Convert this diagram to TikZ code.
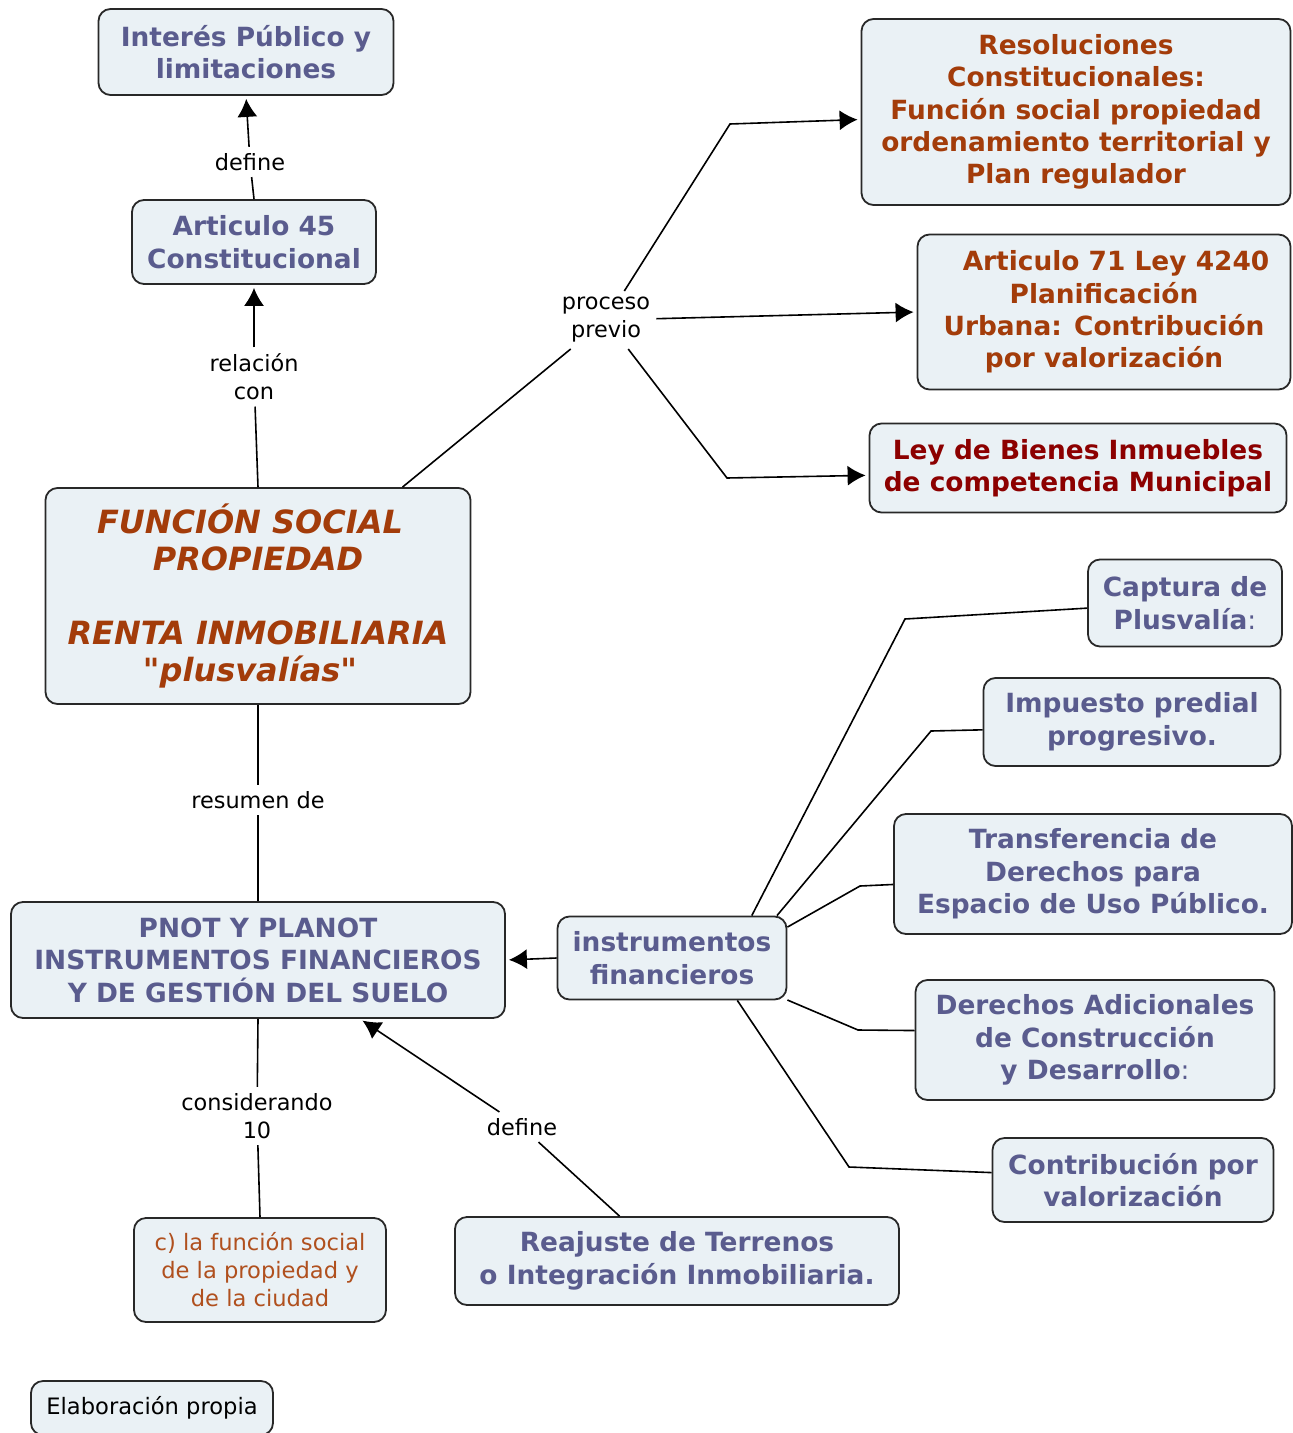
\documentclass[tikz,border=0pt]{standalone}
\usepackage{fontspec}
\setmainfont{DejaVu Sans}[Ligatures=TeXOff]
\usetikzlibrary{arrows.meta}

\definecolor{boxfill}{RGB}{234,241,245}
\definecolor{boxline}{RGB}{40,40,40}
\definecolor{slateblue}{RGB}{90,92,142}
\definecolor{rust}{RGB}{163,60,10}
\definecolor{darkred}{RGB}{140,0,0}
\definecolor{ochre}{RGB}{176,80,30}

\begin{document}
\begin{tikzpicture}[x=0.5pt,y=-0.5pt,
    concept/.style={rectangle,rounded corners=6pt,draw=boxline,line width=0.9pt,fill=boxfill,
        align=center,inner sep=0pt,font=\fontsize{13.2}{16.2}\selectfont\bfseries},
    linkword/.style={align=center,inner sep=3pt,font=\fontsize{11.2}{14}\selectfont},
    link/.style={line width=0.8pt},
    arrow/.style={link,-{Latex[length=9pt,width=10pt]},shorten >=1.5pt}]
    \fill[white] (0,0) rectangle (1292,1433);
    \useasboundingbox (0,0) rectangle (1292,1433);
    % nodes
    \node[concept,text=slateblue,minimum width=147.5pt,minimum height=43pt] (interes) at (246,52) {Interés Público y\\limitaciones};
    \node[concept,text=slateblue,minimum width=122pt,minimum height=42pt] (art45) at (254,242) {Articulo 45\\Constitucional};
    \node[concept,text=rust,minimum width=212.5pt,minimum height=108pt,font=\fontsize{16}{18.5}\selectfont\bfseries\itshape] (funcion) at (258,596) {FUNCIÓN SOCIAL\hspace*{8pt}\\PROPIEDAD\hspace*{8pt}\\[18.5pt]RENTA INMOBILIARIA\hspace*{8pt}\\"plusvalías"\hspace*{8pt}};
    \node[concept,text=rust,minimum width=214.5pt,minimum height=93pt] (resol) at (1076,112) {Resoluciones\\Constitucionales:\\Función social propiedad\\ordenamiento territorial y\\Plan regulador};
    \node[concept,text=rust,minimum width=186.5pt,minimum height=77.5pt] (art71) at (1104,312) {\hspace*{12pt}Articulo 71 Ley 4240\\Planificación\\Urbana: Contribución\\por valorización};
    \node[concept,text=darkred,minimum width=208.5pt,minimum height=44.5pt] (ley) at (1078,468) {Ley de Bienes Inmuebles\\de competencia Municipal};
    \node[concept,text=slateblue,minimum width=247pt,minimum height=58pt] (pnot) at (258,960) {PNOT Y PLANOT\\INSTRUMENTOS FINANCIEROS\\Y DE GESTIÓN DEL SUELO};
    \node[concept,text=slateblue,minimum width=114.5pt,minimum height=41.5pt] (instr) at (672,958) {instrumentos\\financieros};
    \node[concept,text=slateblue,minimum width=97pt,minimum height=43.5pt] (captura) at (1185,603) {Captura de\\Plusvalía{\mdseries :}};
    \node[concept,text=slateblue,minimum width=148.5pt,minimum height=44pt] (impuesto) at (1132,722) {Impuesto predial\\progresivo.};
    \node[concept,text=slateblue,minimum width=199pt,minimum height=60pt] (transf) at (1093,874) {Transferencia de\\Derechos para\\Espacio de Uso Público.};
    \node[concept,text=slateblue,minimum width=179.5pt,minimum height=60pt] (derechos) at (1095,1040) {Derechos Adicionales\\de Construcción\\y Desarrollo{\mdseries :}};
    \node[concept,text=slateblue,minimum width=140.5pt,minimum height=42pt] (contrib) at (1133,1180) {Contribución por\\valorización};
    \node[concept,text=ochre,minimum width=126pt,minimum height=52pt,font=\fontsize{11.3}{14}\selectfont] (cfunc) at (260,1270) {c) la función social\\de la propiedad y\\de la ciudad};
    \node[concept,text=slateblue,minimum width=222pt,minimum height=44pt] (reajuste) at (677,1261) {Reajuste de Terrenos\\o Integración Inmobiliaria.};
    \node[concept,text=black,minimum width=121pt,minimum height=27pt,font=\fontsize{11.3}{14}\selectfont] (elab) at (152,1408) {Elaboración propia};
    % linking words
    \node[linkword] (define1) at (250,162) {define};
    \node[linkword] (relacion) at (254,377) {relación\\con};
    \node[linkword] (proceso) at (606,320) {proceso\\previo};
    \node[linkword] (resumen) at (258,800) {resumen de};
    \node[linkword] (consid) at (257,1116) {considerando\\10};
    \node[linkword] (define2) at (522,1127) {define};
    % bends
    \coordinate (pb1) at (730,124);
    \coordinate (pb2) at (727,478);
    \coordinate (cb1) at (905,619);
    \coordinate (cb2) at (931,731);
    \coordinate (cb3) at (860,886);
    \coordinate (cb4) at (858,1030);
    \coordinate (cb5) at (849,1167);
    % paths
    \draw[link] (art45.north) -- (define1);
    \draw[arrow] (define1) -- (interes.south);
    \draw[link] (funcion.north) -- (relacion);
    \draw[arrow] (relacion) -- (art45.south);
    \draw[link] (funcion.37) -- (proceso);
    \draw[arrow] (proceso) -- (pb1) -- (resol.182);
    \draw[arrow] (proceso) -- (art71.west);
    \draw[arrow] (proceso) -- (pb2) -- (ley.182);
    \draw[link] (funcion.south) -- (resumen);
    \draw[link] (resumen) -- (pnot.north);
    \draw[link] (pnot.south) -- (consid);
    \draw[link] (consid) -- (cfunc.north);
    \draw[link] (reajuste.142) -- (define2);
    \draw[arrow] (define2) -- (pnot.330);
    \draw[arrow] (instr.west) -- (pnot.east);
    \draw[link] (instr.28) -- (cb1) -- (captura.183);
    \draw[link] (instr.22) -- (cb2) -- (impuesto.183);
    \draw[link] (instr.15) -- (cb3) -- (transf.183);
    \draw[link] (instr.340) -- (cb4) -- (derechos.177);
    \draw[link] (instr.327) -- (cb5) -- (contrib.177);
\end{tikzpicture}
\end{document}
